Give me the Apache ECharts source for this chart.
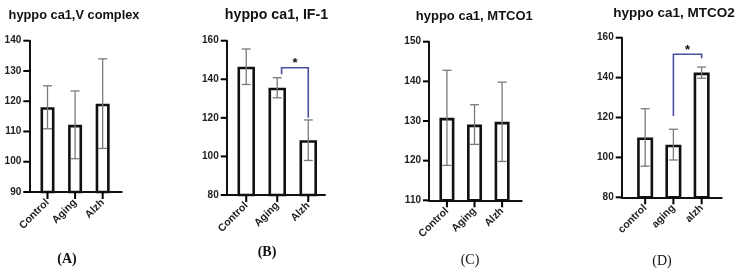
<!DOCTYPE html>
<html><head><meta charset="utf-8">
<script src="https://cdn.jsdelivr.net/npm/echarts@6/dist/echarts.min.js"></script>
<style>html,body{margin:0;padding:0;background:#fff}#c{width:738px;height:271px}</style>
</head><body><div id="c"></div>
<script>
// ---- data ----
const catsABC = ['Control', 'Aging', 'Alzh'];
const catsD = ['control', 'aging', 'alzh'];
const titles = ['hyppo ca1,V complex', 'hyppo ca1, IF-1', 'hyppo ca1, MTCO1', 'hyppo ca1, MTCO2'];
const captions = ['(A)', '(B)', '(C)', '(D)'];
const meanA = [118, 112.2, 119.2];
const errA = [7.1, 11.2, 14.8];
const meanB = [146.5, 135.6, 108.4];
const errB = [9.2, 5.2, 10.5];
const meanC = [130.8, 129.1, 129.8];
const errC = [12, 5, 10];
const meanD = [110, 106.4, 142.5];
const errD = [14.4, 7.7, 2.8];
const yTicksA = [90, 100, 110, 120, 130, 140];
const yTicksB = [80, 100, 120, 140, 160];
const yTicksC = [110, 120, 130, 140, 150];
const yTicksD = [80, 100, 120, 140, 160];
// significance brackets: [xLeft, xRight, yTop, yLeftEnd, yRightEnd]
const sigB = [1.14, 2, 146, 142.6, 120];
const sigD = [1, 2, 151.7, 120.8, 149.7];

// ---- layout ----
const layout = [
  {grid: {left: 29.3, top: 40.7, width: 92.4, height: 151.3}, x: [-0.66, 2.69], bw: 14, cats: catsABC, mean: meanA, err: errA, yt: yTicksA, sig: null,
   title: {x: 74, y: 15, size: 12.8}, cap: {x: 67, y: 259, bold: true}},
  {grid: {left: 226.7, top: 40.7, width: 98.3, height: 154.3}, x: [-0.63, 2.54], bw: 17.5, cats: catsABC, mean: meanB, err: errB, yt: yTicksB, sig: sigB,
   title: {x: 276.5, y: 15, size: 14.2}, cap: {x: 267, y: 252, bold: true}},
  {grid: {left: 429, top: 41.7, width: 92.7, height: 158.6}, x: [-0.65, 2.71], bw: 15, cats: catsABC, mean: meanC, err: errC, yt: yTicksC, sig: null,
   title: {x: 474.3, y: 16.7, size: 13}, cap: {x: 470, y: 260, bold: false}},
  {grid: {left: 621.7, top: 37.7, width: 100, height: 159.6}, x: [-0.83, 2.71], bw: 16, cats: catsD, mean: meanD, err: errD, yt: yTicksD, sig: sigD,
   title: {x: 674, y: 13.3, size: 13.5}, cap: {x: 662, y: 261, bold: false}}
];

const FONT = '"Liberation Sans", Arial, sans-serif';
const grids = [], xAxes = [], yAxes = [], series = [], graphics = [];

layout.forEach((p, i) => {
  const ymin = p.yt[0], ymax = p.yt[p.yt.length - 1], yint = p.yt[1] - p.yt[0];
  grids.push(Object.assign({containLabel: false}, p.grid));
  xAxes.push({
    type: 'value', gridIndex: i, min: p.x[0], max: p.x[1],
    splitLine: {show: false},
    axisLine: {show: true, onZero: false, lineStyle: {color: '#111', width: 2}},
    axisTick: {show: false},
    axisLabel: {customValues: [0, 1, 2], rotate: 45, margin: 9,
      formatter: (v) => p.cats[Math.round(v)] || '',
      fontFamily: FONT, fontWeight: 'bold', fontSize: 10.5, color: '#222'}
  });
  yAxes.push({
    type: 'value', gridIndex: i, min: ymin, max: ymax, interval: yint,
    splitLine: {show: false},
    axisLine: {show: true, onZero: false, lineStyle: {color: '#111', width: 2}},
    axisTick: {show: false},
    axisLabel: {margin: 8, fontFamily: FONT, fontWeight: 'bold', fontSize: 10, color: '#222'}
  });
  series.push({
    type: 'bar', xAxisIndex: i, yAxisIndex: i, barWidth: p.bw, clip: true,
    data: p.mean.map((m, k) => [k, m]),
    itemStyle: {color: '#fff', borderColor: '#111', borderWidth: 2.6},
    z: 2, silent: true
  });
  series.push({
    type: 'custom', xAxisIndex: i, yAxisIndex: i, z: 3, silent: true,
    data: p.mean.map((m, k) => [k, m, p.err[k]]),
    renderItem: (params, api) => {
      const x = api.value(0), m = api.value(1), e = api.value(2);
      const hi = api.coord([x, m + e]), lo = api.coord([x, m - e]);
      const cw = 4.5;
      const st = {stroke: '#7a7a7a', lineWidth: 1.3};
      return {type: 'group', children: [
        {type: 'line', shape: {x1: hi[0], y1: hi[1], x2: lo[0], y2: lo[1]}, style: st},
        {type: 'line', shape: {x1: hi[0] - cw, y1: hi[1], x2: hi[0] + cw, y2: hi[1]}, style: st},
        {type: 'line', shape: {x1: lo[0] - cw, y1: lo[1], x2: lo[0] + cw, y2: lo[1]}, style: st}
      ]};
    }
  });
  if (p.sig) {
    series.push({
      type: 'custom', xAxisIndex: i, yAxisIndex: i, z: 4, silent: true, clip: false,
      data: [p.sig],
      renderItem: (params, api) => {
        const xl = api.value(0), xr = api.value(1), t = api.value(2), yl = api.value(3), yr = api.value(4);
        const a = api.coord([xl, yl]), b = api.coord([xl, t]), c = api.coord([xr, t]), d = api.coord([xr, yr]);
        return {type: 'group', children: [
          {type: 'polyline', shape: {points: [a, b, c, d]}, style: {stroke: '#4b4f9e', lineWidth: 1.6, fill: null}},
          {type: 'text', x: (b[0] + c[0]) / 2, y: b[1] - 4, style: {text: '*', fontFamily: FONT, fontWeight: 'bold', fontSize: 13, fill: '#111', align: 'center', verticalAlign: 'middle'}}
        ]};
      }
    });
  }
  graphics.push({type: 'text', x: p.title.x, y: p.title.y, style: {text: titles[i], fontFamily: FONT, fontWeight: 'bold', fontSize: p.title.size, fill: '#111', align: 'center', verticalAlign: 'middle'}});
  graphics.push({type: 'text', x: p.cap.x, y: p.cap.y, style: {text: captions[i], fontFamily: '"Liberation Serif", "Times New Roman", serif', fontWeight: p.cap.bold ? 'bold' : 'normal', fontSize: 14, fill: '#111', align: 'center', verticalAlign: 'middle'}});
});

const chart = echarts.init(document.getElementById('c'), null, {renderer: 'canvas'});
chart.setOption({
  animation: false,
  backgroundColor: '#fff',
  grid: grids, xAxis: xAxes, yAxis: yAxes, series: series, graphic: graphics
});

// axis ticks, positioned through the chart's own scales
const tickGraphics = [];
layout.forEach((p, i) => {
  const ymin = p.yt[0];
  p.yt.forEach(v => {
    const c = chart.convertToPixel({gridIndex: i}, [p.x[0], v]);
    tickGraphics.push({type: 'line', z: 100, shape: {x1: c[0] - 6, y1: c[1], x2: c[0], y2: c[1]}, style: {stroke: '#000', lineWidth: 2}});
  });
  [0, 1, 2].forEach(k => {
    const c = chart.convertToPixel({gridIndex: i}, [k, ymin]);
    tickGraphics.push({type: 'line', z: 100, shape: {x1: c[0], y1: c[1], x2: c[0], y2: c[1] + 7}, style: {stroke: '#000', lineWidth: 2}});
  });
});
chart.setOption({graphic: graphics.concat(tickGraphics)});
</script></body></html>
